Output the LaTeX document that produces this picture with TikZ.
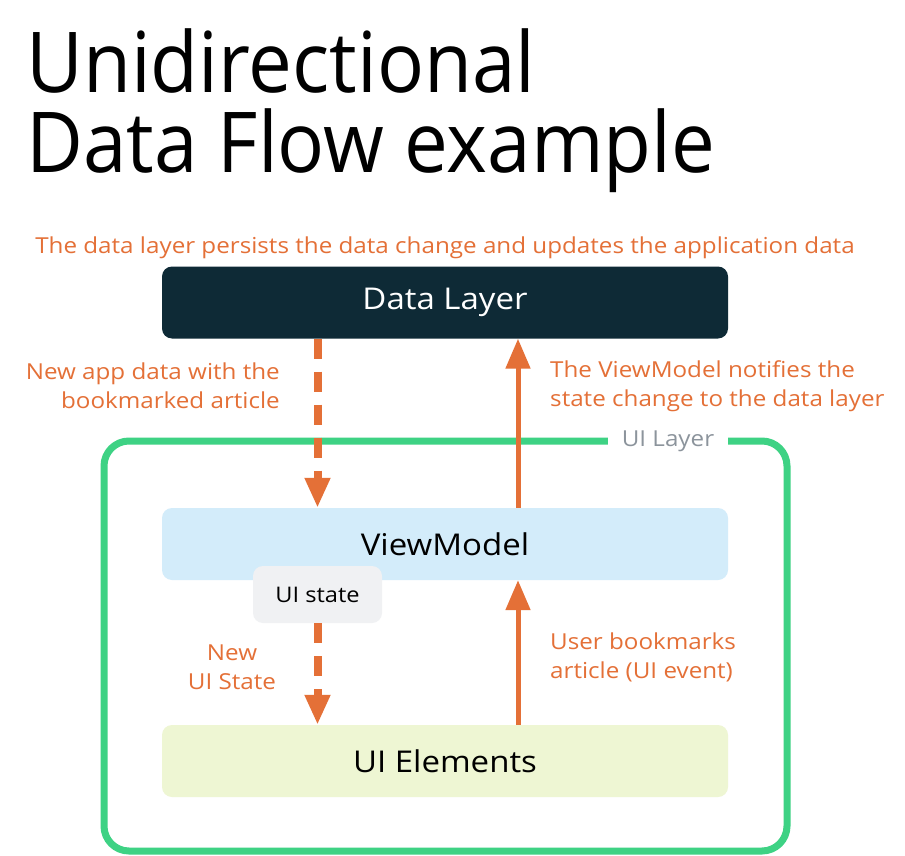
\documentclass[tikz,border=0pt]{standalone}
\usepackage{fontspec}
\setmainfont{Open Sans}[FakeStretch=1.1]
\newfontfamily\titlefont{Open Sans}[FakeStretch=0.93]
\usepackage{tikz}
\usetikzlibrary{
  arrows.meta,
  positioning,
  calc
}
\definecolor{datadark}{RGB}{14, 42, 54}
\definecolor{vmblue}{RGB}{211, 236, 250}
\definecolor{uigreen}{RGB}{238, 246, 211}
\definecolor{statebg}{RGB}{240, 241, 243}
\definecolor{framegreen}{RGB}{62, 210, 132}
\definecolor{flowcolor}{RGB}{228, 112, 55}
\definecolor{framelbl}{RGB}{140, 148, 156}
\tikzset{
  layerbox/.style = {
    rectangle, rounded corners=10pt,
    fill=#1, minimum width=566pt, minimum height=72pt,
    inner sep=0pt, font=\fontsize{30}{34}\selectfont
  },
  layerbox/.default = vmblue,
  statebox/.style = {
    rectangle, rounded corners=10pt,
    fill=statebg, minimum width=129pt, minimum height=57pt,
    inner sep=0pt, font=\fontsize{21.5}{25}\selectfont
  },
  flowlbl/.style = {
    text=flowcolor, inner sep=0pt,
    font=\fontsize{22}{29}\selectfont
  },
  dasharr/.style = {
    -{Triangle[width=24pt, length=30pt]}, draw=flowcolor,
    line width=8pt, dash pattern=on 20pt off 13pt
  },
  solidarr/.style = {
    -{Triangle[width=24pt, length=30pt]}, draw=flowcolor,
    line width=5pt
  },
  uiframe/.style = {
    draw=framegreen, line width=7pt, rounded corners=25pt
  },
}

\begin{document}
\begin{tikzpicture}[x=1pt, y=-1pt]

  \useasboundingbox[fill=white] (0,0) rectangle (905,856);

  % Title
  \node[anchor=base west, inner sep=0pt,
        font=\titlefont\fontsize{84}{90}\selectfont] (title1) at (26,93) {Unidirectional};
  \node[anchor=base west, inner sep=0pt,
        font=\titlefont\fontsize{84}{90}\selectfont] (title2) at (26,172) {Data Flow example};

  \node[flowlbl, anchor=base] (persist) at (445,253)
    {The data layer persists the data change and updates the application data};

  % UI layer frame
  \draw[uiframe] (104,441) rectangle (787,851);
  \node[fill=white, inner xsep=14pt, inner ysep=2pt, text=framelbl,
        font=\fontsize{22}{26}\selectfont] (uilayer) at (668,441) {UI Layer};

  \node[layerbox=datadark, text=white] (dl) at (445,302.5) {Data Layer};
  \node[layerbox=vmblue] (vm) at (445,544) {ViewModel};
  \node[statebox] (us) at (317.5,594.5) {UI state};
  \node[layerbox=uigreen] (ue) at (445,761) {UI Elements};

  \coordinate (evx) at (518,0);

  % Arrows
  \draw[dasharr] (dl.south -| us) -- (vm.north -| us);
  \draw[solidarr] (vm.north -| evx) -- (dl.south -| evx);
  \draw[dasharr] (us.south) -- (ue.north -| us);
  \draw[solidarr] (ue.north -| evx) -- (vm.south -| evx);

  % Labels
  \node[flowlbl, anchor=east, align=right] (newdata) at (280,386)
    {New app data with the\\bookmarked article};
  \node[flowlbl, anchor=west, align=left] (notify) at (550,386)
    {The ViewModel notifies the\\state change to the data layer};
  \node[flowlbl, align=center] (newstate) at (232,667)
    {New\\UI State};
  \node[flowlbl, anchor=west, align=left] (bookmark) at (550,657)
    {User bookmarks\\article (UI event)};

\end{tikzpicture}
\end{document}
